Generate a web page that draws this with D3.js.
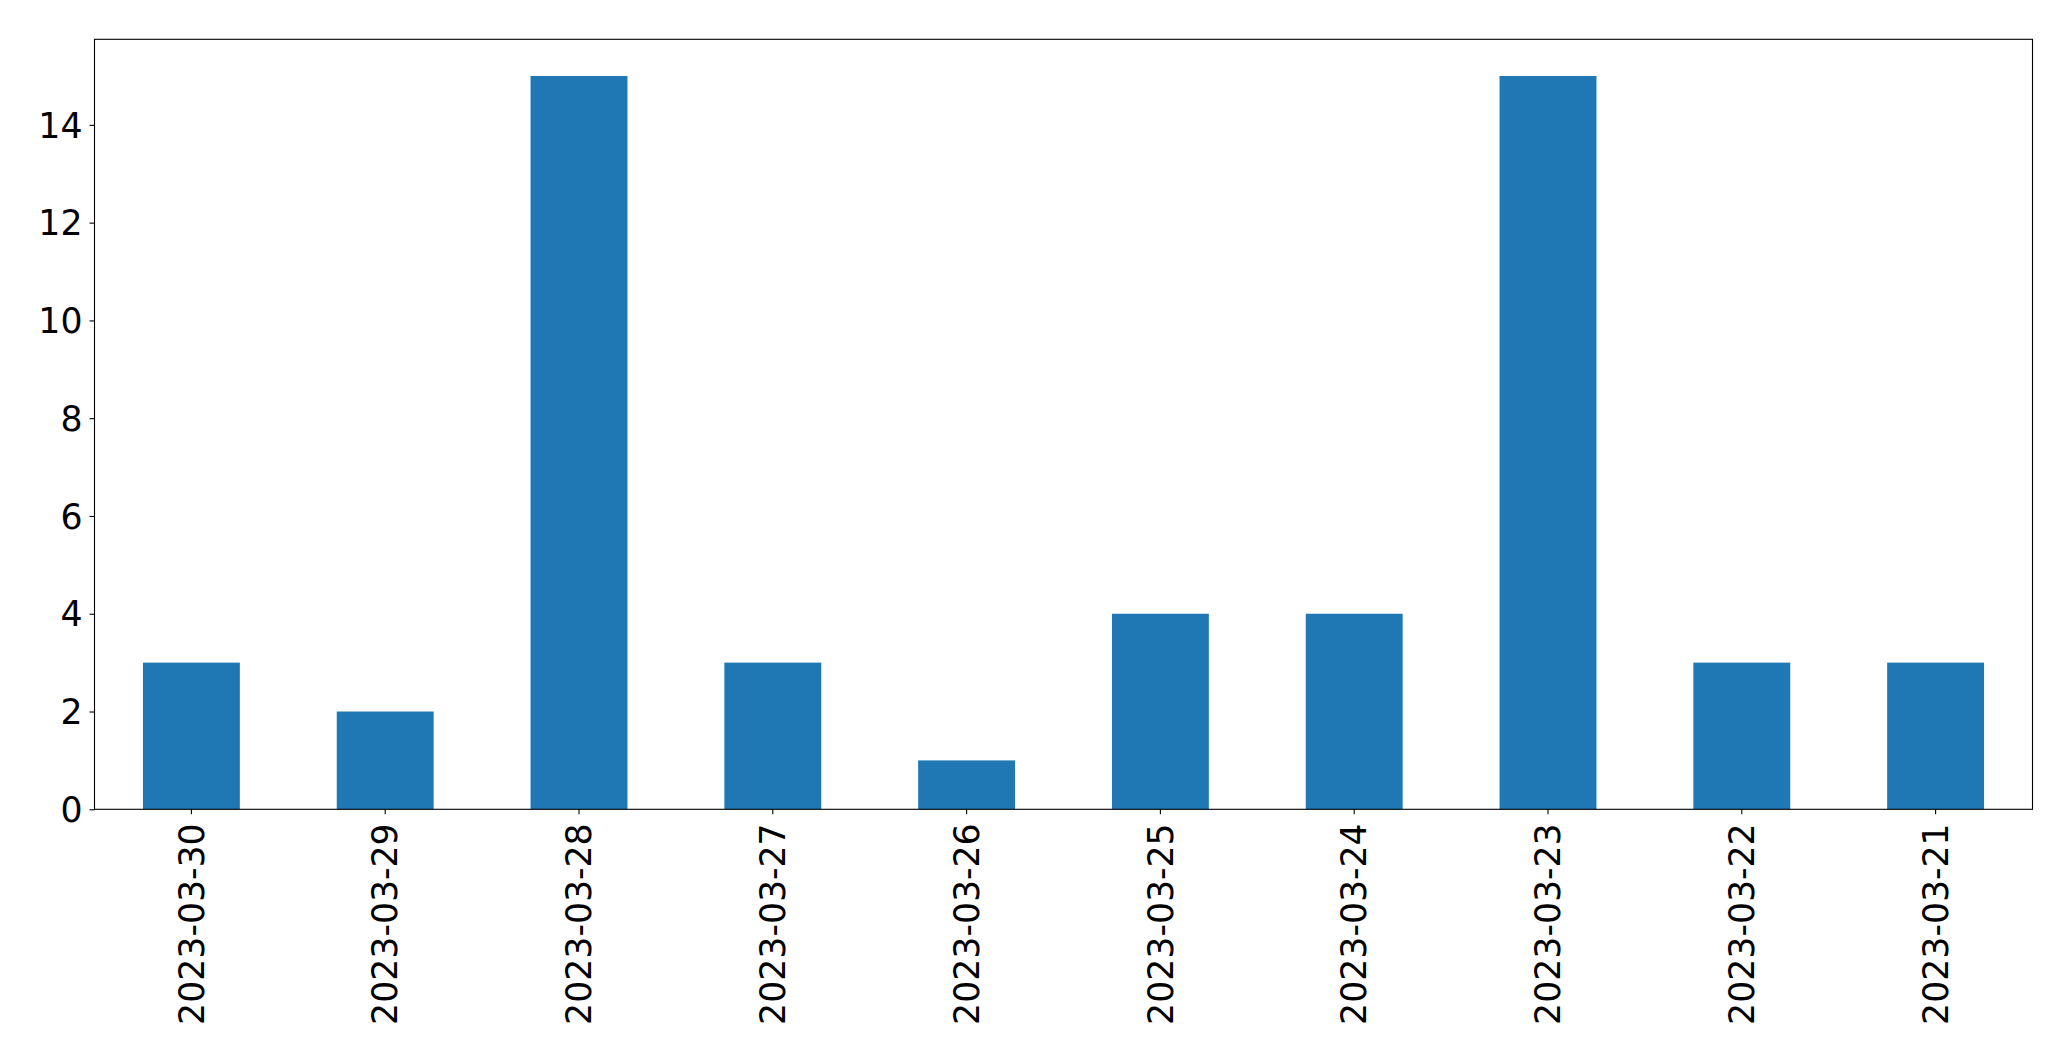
<!DOCTYPE html>
<html>
<head>
<meta charset="utf-8">
<script src="https://cdn.jsdelivr.net/npm/d3@7"></script>
<style>
  html, body { margin: 0; padding: 0; background: #fff; }
  svg { display: block; }
  text { font-family: "DejaVu Sans", sans-serif; fill: #000; }
</style>
</head>
<body>
<svg id="chart" width="2071" height="1061"></svg>
<script>
const categories = ["2023-03-30","2023-03-29","2023-03-28","2023-03-27","2023-03-26","2023-03-25","2023-03-24","2023-03-23","2023-03-22","2023-03-21"];
const values = [3, 2, 15, 3, 1, 4, 4, 15, 3, 3];
const yTicks = [0, 2, 4, 6, 8, 10, 12, 14];

const margin = { left: 94.5, right: 2032.5, top: 39.3, bottom: 809.3 };
const fontSize = 34.7;

const svg = d3.select("#chart");

const x = d3.scaleBand()
  .domain(categories)
  .range([margin.left, margin.right])
  .paddingInner(0.5)
  .paddingOuter(0.25);

const yMax = d3.max(values) * 1.05;
const y = d3.scaleLinear().domain([0, yMax]).range([margin.bottom, margin.top]);

svg.append("g").selectAll("rect")
  .data(values)
  .join("rect")
  .attr("x", (d, i) => x(categories[i]))
  .attr("y", d => y(d))
  .attr("width", x.bandwidth())
  .attr("height", d => y(0) - y(d))
  .attr("fill", "#1f77b4");

// y axis
const yAxis = svg.append("g")
  .attr("transform", `translate(${margin.left},0)`)
  .call(d3.axisLeft(y).tickValues(yTicks).tickSize(5).tickPadding(7).tickFormat(d3.format("d")));
yAxis.select(".domain").remove();
yAxis.selectAll(".tick line").attr("stroke", "#000").attr("stroke-width", 1.1);
yAxis.selectAll(".tick text").style("font-size", fontSize + "px").attr("dy", "0.35em");

// x axis
const xAxis = svg.append("g")
  .attr("transform", `translate(0,${margin.bottom})`)
  .call(d3.axisBottom(x).tickSize(5).tickPadding(7));
xAxis.select(".domain").remove();
xAxis.selectAll(".tick line").attr("stroke", "#000").attr("stroke-width", 1.1);
xAxis.selectAll(".tick text")
  .style("font-size", fontSize + "px")
  .attr("text-anchor", "end")
  .attr("transform", "rotate(-90)")
  .attr("x", -14)
  .attr("y", 0)
  .attr("dy", "0.35em");

// frame
svg.append("rect")
  .attr("x", margin.left)
  .attr("y", margin.top)
  .attr("width", margin.right - margin.left)
  .attr("height", margin.bottom - margin.top)
  .attr("fill", "none")
  .attr("stroke", "#000")
  .attr("stroke-width", 1.1);
</script>
</body>
</html>
